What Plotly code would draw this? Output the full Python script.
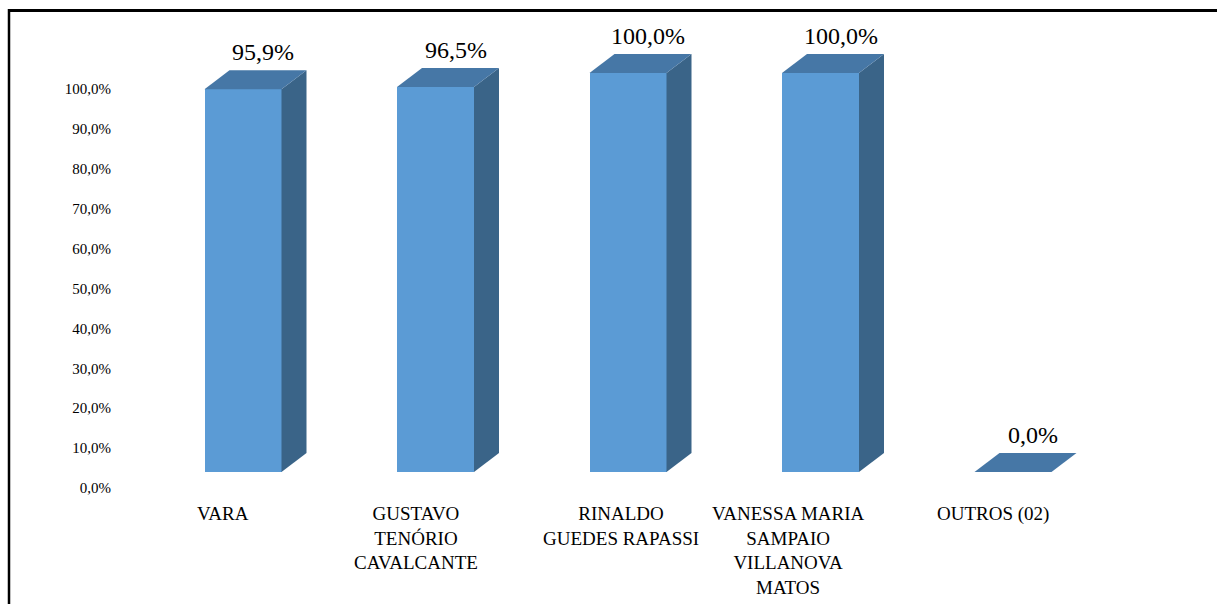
import plotly.graph_objects as go

categories = ["VARA", "GUSTAVO<br>TENÓRIO<br>CAVALCANTE", "RINALDO<br>GUEDES RAPASSI",
              "VANESSA MARIA<br>SAMPAIO<br>VILLANOVA<br>MATOS", "OUTROS (02)"]
values = [95.9, 96.5, 100.0, 100.0, 0.0]
tick_values = [0, 10, 20, 30, 40, 50, 60, 70, 80, 90, 100]
tick_labels = [f"{t:.1f}".replace(".", ",") + "%" for t in tick_values]
value_labels = [f"{v:.1f}".replace(".", ",") + "%" for v in values]

FONT = "Times New Roman, Liberation Serif, serif"
FRONT = "#5B9BD5"
TOP = "#4677A6"
SIDE = "#3A6488"

W, H = 1217, 604
ML = 120
PX_PER_X = 192.5
PX_PER_Y = 3.99
X0 = -(243 - ML) / PX_PER_X
X1 = X0 + (W - ML) / PX_PER_X
Y0 = -(H - 472) / PX_PER_Y
Y1 = Y0 + H / PX_PER_Y
HALF = 0.2
DDX = 25 / PX_PER_X
DDY = 19 / PX_PER_Y
LABEL_SHIFT = 4.0  # 3D wall offset for value axis labels
label_xshift = [-20, -20, -7, -33, -20]

xs = list(range(len(values)))
fig = go.Figure()
fig.add_trace(go.Bar(x=xs, y=values, width=2 * HALF, marker=dict(color=FRONT, line=dict(width=0)),
                     showlegend=False, hoverinfo="skip"))

for i, v in zip(xs, values):
    # side face
    fig.add_trace(go.Scatter(
        x=[i + HALF, i + HALF + DDX, i + HALF + DDX, i + HALF, i + HALF],
        y=[v, v + DDY, DDY, 0, v], mode="lines", fill="toself",
        fillcolor=SIDE, line=dict(width=0, color=SIDE), showlegend=False, hoverinfo="skip"))
    # top face
    fig.add_trace(go.Scatter(
        x=[i - HALF, i - HALF + DDX, i + HALF + DDX, i + HALF, i - HALF],
        y=[v, v + DDY, v + DDY, v, v], mode="lines", fill="toself",
        fillcolor=TOP, line=dict(width=0, color=TOP), showlegend=False, hoverinfo="skip"))

# invisible trace for label axis
fig.add_trace(go.Scatter(x=[X0], y=[0], yaxis="y2", mode="markers",
                         marker=dict(opacity=0), showlegend=False, hoverinfo="skip"))

annotations = []
for i, v, t in zip(xs, values, value_labels):
    annotations.append(dict(x=i, y=v, xref="x", yref="y", text=t, showarrow=False,
                            xshift=20, yshift=37, font=dict(family=FONT, size=24, color="black")))
for i, c, s in zip(xs, categories, label_xshift):
    annotations.append(dict(x=i, y=-7.3, xref="x", yref="y", text=c, showarrow=False,
                            xshift=s, yanchor="top", align="center",
                            font=dict(family=FONT, size=19, color="black")))

fig.update_layout(
    width=W, height=H,
    margin=dict(l=ML, r=0, t=0, b=0),
    plot_bgcolor="white", paper_bgcolor="white",
    font=dict(family=FONT),
    bargap=0,
    xaxis=dict(range=[X0, X1], visible=False, fixedrange=True),
    yaxis=dict(range=[Y0, Y1], visible=False, fixedrange=True),
    yaxis2=dict(range=[Y0 + LABEL_SHIFT, Y1 + LABEL_SHIFT], overlaying="y", side="left",
                tickvals=tick_values, ticktext=tick_labels, showgrid=False, zeroline=False,
                showline=False, ticks="outside", ticklen=5, tickcolor="rgba(0,0,0,0)",
                tickfont=dict(family=FONT, size=15, color="black"), fixedrange=True),
    annotations=annotations,
    shapes=[
        dict(type="line", xref="paper", yref="paper", x0=(9 - ML) / (W - ML), x1=1.0,
             y0=1 - 10.5 / H, y1=1 - 10.5 / H, line=dict(color="black", width=3)),
        dict(type="line", xref="paper", yref="paper", x0=(9 - ML) / (W - ML), x1=(9 - ML) / (W - ML),
             y0=1 - 9 / H, y1=0, line=dict(color="black", width=2.5)),
    ],
)

fig.write_html("out.html", config={"displayModeBar": False},
               post_script="document.body.style.margin='0';")
